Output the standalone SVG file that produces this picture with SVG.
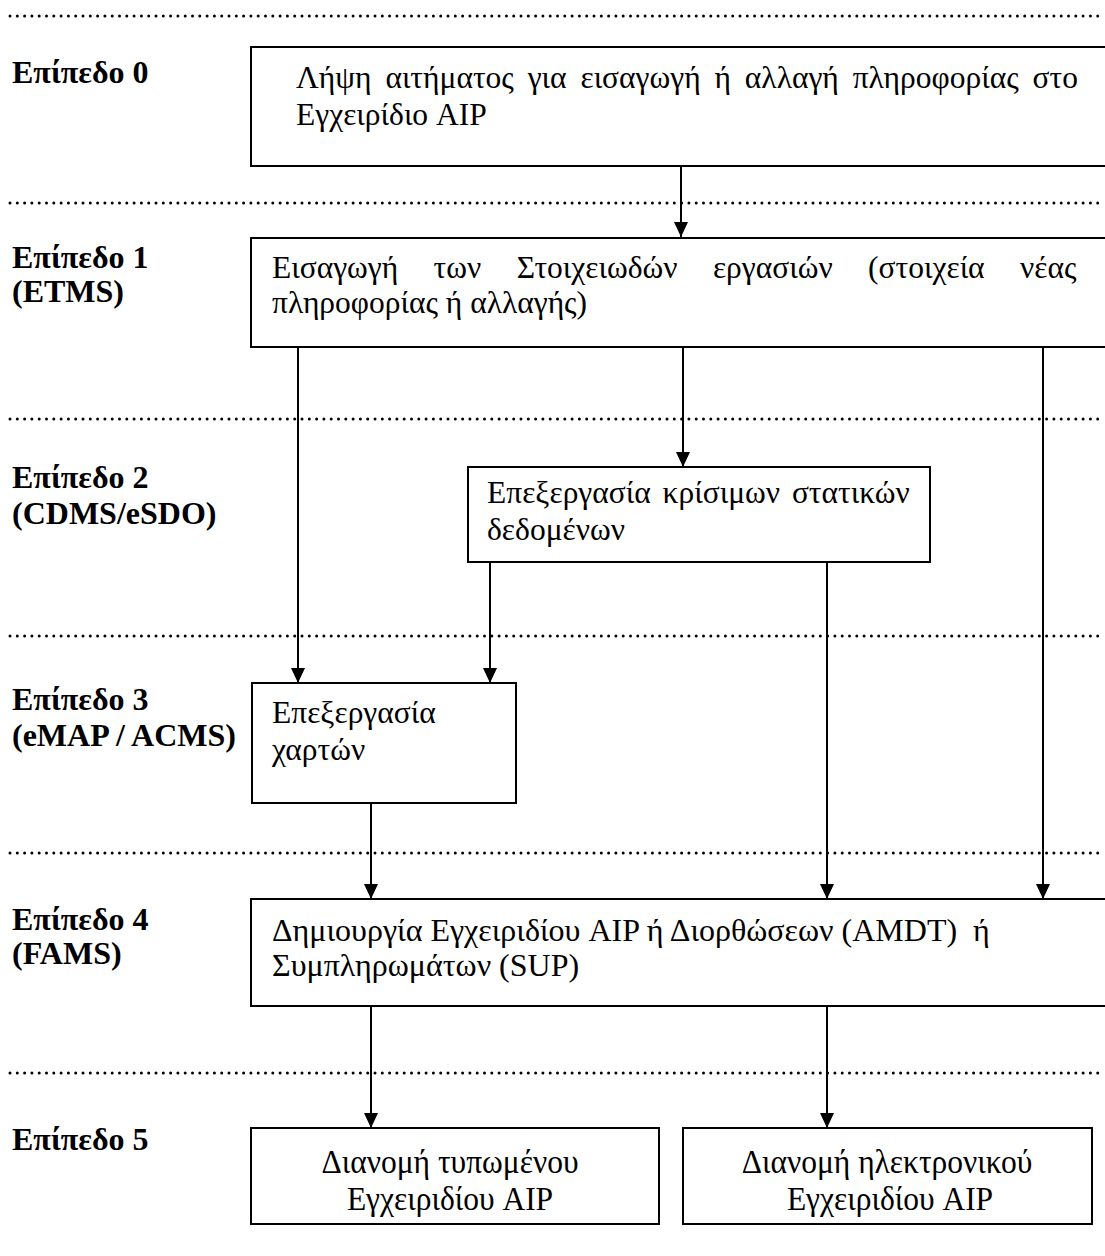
<svg xmlns="http://www.w3.org/2000/svg" width="1105" height="1256" viewBox="0 0 1105 1256">
  <style>
    .sep { stroke: #000; stroke-width: 3; stroke-linecap: round; stroke-dasharray: 0 7.3; fill: none; }
    .box { fill: #fff; stroke: #000; stroke-width: 2; }
    .lvl { font-family: "Liberation Serif", "Times New Roman", serif; font-weight: bold; font-size: 32px; fill: #000; }
    .txt { font-family: "Liberation Serif", "Times New Roman", serif; font-size: 31.5px; fill: #000; }
    .ctr { text-anchor: middle; }
    .edge { stroke: #000; stroke-width: 2; fill: none; marker-end: url(#arrow); }
  </style>
  <defs>
    <!-- filled triangular arrowhead, tip at the end of the line -->
    <marker id="arrow" markerWidth="15" markerHeight="14" refX="15" refY="7" orient="auto" markerUnits="userSpaceOnUse" viewBox="0 0 15 14">
      <path d="M0,0 L15,7 L0,14 Z" fill="#000"/>
    </marker>
  </defs>
  <rect width="1105" height="1256" fill="#fff"/>

  <!-- level separators -->
  <g id="separators">
    <line class="sep" x1="10" y1="16" x2="1105" y2="16"/>
    <line class="sep" x1="10" y1="203" x2="1105" y2="203"/>
    <line class="sep" x1="10" y1="419" x2="1105" y2="419"/>
    <line class="sep" x1="10" y1="636" x2="1105" y2="636"/>
    <line class="sep" x1="10" y1="853" x2="1105" y2="853"/>
    <line class="sep" x1="10" y1="1073" x2="1105" y2="1073"/>
  </g>

  <!-- level labels -->
  <g id="labels">
    <text class="lvl" x="12" y="83">Επίπεδο 0</text>
    <text class="lvl" x="12" y="268">Επίπεδο 1</text>
    <text class="lvl" x="12" y="302">(ETMS)</text>
    <text class="lvl" x="12" y="488">Επίπεδο 2</text>
    <text class="lvl" x="12" y="524">(CDMS/eSDO)</text>
    <text class="lvl" x="12" y="710">Επίπεδο 3</text>
    <text class="lvl" x="12" y="746">(eMAP / ACMS)</text>
    <text class="lvl" x="12" y="930">Επίπεδο 4</text>
    <text class="lvl" x="12" y="964">(FAMS)</text>
    <text class="lvl" x="12" y="1150">Επίπεδο 5</text>
  </g>

  <!-- connectors -->
  <g id="connectors">
    <line class="edge" x1="681" y1="166" x2="681" y2="237"/>
    <line class="edge" x1="298" y1="347" x2="298" y2="683"/>
    <line class="edge" x1="683" y1="347" x2="683" y2="467"/>
    <line class="edge" x1="1043" y1="347" x2="1043" y2="899"/>
    <line class="edge" x1="490" y1="562" x2="490" y2="683"/>
    <line class="edge" x1="827" y1="562" x2="827" y2="899"/>
    <line class="edge" x1="371" y1="803" x2="371" y2="899"/>
    <line class="edge" x1="371" y1="1006" x2="371" y2="1128"/>
    <line class="edge" x1="827" y1="1006" x2="827" y2="1128"/>
  </g>

  <!-- level 0 -->
  <g id="node-request">
    <rect class="box" x="251" y="47" width="870" height="119"/>
    <text class="txt" x="296" y="88" style="word-spacing:6px">Λήψη αιτήματος για εισαγωγή ή αλλαγή πληροφορίας στο</text>
    <text class="txt" x="296" y="125">Εγχειρίδιο AIP</text>
  </g>

  <!-- level 1 -->
  <g id="node-entry">
    <rect class="box" x="251" y="238" width="870" height="109"/>
    <text class="txt" x="272" y="278" style="word-spacing:27.5px">Εισαγωγή των Στοιχειωδών εργασιών (στοιχεία νέας</text>
    <text class="txt" x="272" y="313">πληροφορίας ή αλλαγής)</text>
  </g>

  <!-- level 2 -->
  <g id="node-static-data">
    <rect class="box" x="468" y="467" width="462" height="95"/>
    <text class="txt" x="487" y="503" style="word-spacing:4px">Επεξεργασία κρίσιμων στατικών</text>
    <text class="txt" x="487" y="540">δεδομένων</text>
  </g>

  <!-- level 3 -->
  <g id="node-charts">
    <rect class="box" x="252" y="683" width="264" height="120"/>
    <text class="txt" x="272" y="723">Επεξεργασία</text>
    <text class="txt" x="272" y="760">χαρτών</text>
  </g>

  <!-- level 4 -->
  <g id="node-publication">
    <rect class="box" x="251" y="899" width="870" height="107"/>
    <text class="txt" x="272" y="941" style="white-space:pre;font-size:32px">Δημιουργία Εγχειριδίου AIP ή Διορθώσεων (AMDT)  ή</text>
    <text class="txt" x="272" y="976" style="font-size:32px">Συμπληρωμάτων (SUP)</text>
  </g>

  <!-- level 5 -->
  <g id="node-print">
    <rect class="box" x="251" y="1128" width="408" height="96"/>
    <text class="txt ctr" transform="translate(450 1173) scale(1 1.05)">Διανομή τυπωμένου</text>
    <text class="txt ctr" transform="translate(450 1210) scale(1 1.05)">Εγχειριδίου AIP</text>
  </g>
  <g id="node-electronic">
    <rect class="box" x="683" y="1128" width="409" height="96"/>
    <text class="txt ctr" transform="translate(887 1173) scale(1 1.05)">Διανομή ηλεκτρονικού</text>
    <text class="txt ctr" transform="translate(890 1210) scale(1 1.05)">Εγχειριδίου AIP</text>
  </g>
</svg>
